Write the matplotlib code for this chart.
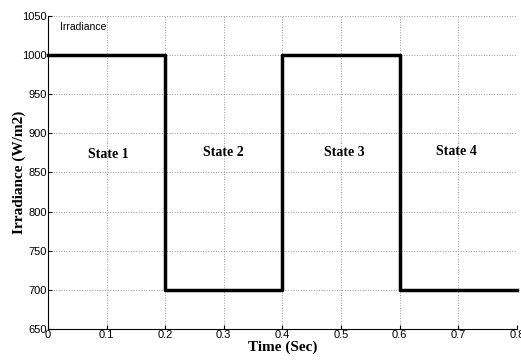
import numpy as np
import matplotlib.pyplot as plt

# step times (s) and irradiance levels (W/m2)
t = [0.0, 0.2, 0.4, 0.6, 0.8]
irr = [1000, 700, 1000, 700, 700]

states = ['State 1', 'State 2', 'State 3', 'State 4']
state_x = [0.103, 0.30, 0.505, 0.697]
state_y = [873, 875, 875, 877]

fig = plt.figure(figsize=(5.21, 3.63), dpi=100)
ax = fig.add_axes([0.092, 0.094, 0.9, 0.862])

ax.plot(t, irr, 'k-', drawstyle='steps-post', linewidth=2.5, clip_on=False)

for name, sx, sy in zip(states, state_x, state_y):
    ax.text(sx, sy, name, ha='center', va='center', fontsize=10,
            fontweight='bold', family='Liberation Serif')
ax.text(0.02, 1036, 'Irradiance', fontsize=7.5, family='Liberation Sans', va='center')

ax.set_xlim(0, 0.8)
ax.set_ylim(650, 1050)
ax.set_xticks(np.arange(0, 0.81, 0.1))
ax.set_xticklabels(['0', '0.1', '0.2', '0.3', '0.4', '0.5', '0.6', '0.7', '0.8'])
ax.set_yticks(np.arange(650, 1051, 50))
ax.tick_params(direction='in', length=3, labelsize=8, pad=1)
for lbl in ax.get_xticklabels() + ax.get_yticklabels():
    lbl.set_family('Liberation Sans')

ax.grid(True, color='#999999', linestyle=':', linewidth=0.7)
ax.spines['top'].set_visible(False)
ax.spines['right'].set_visible(False)

ax.set_xlabel('Time (Sec)', fontsize=11, fontweight='bold', family='Liberation Serif', labelpad=0)
ax.set_ylabel('Irradiance (W/m2)', fontsize=11, fontweight='bold', family='Liberation Serif', labelpad=-3)

fig.savefig('out.png', dpi=100)
